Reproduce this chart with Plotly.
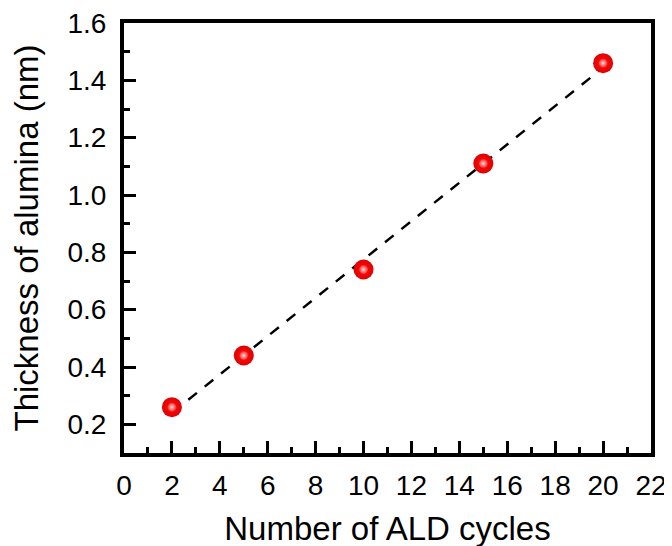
import numpy as np
import plotly.graph_objects as go

cycles = [2, 5, 10, 15, 20]
thickness = [0.26, 0.44, 0.74, 1.11, 1.46]
x_ticks = list(range(0, 23, 2))
y_ticks = [0.2, 0.4, 0.6, 0.8, 1.0, 1.2, 1.4, 1.6]

slope, intercept = np.polyfit(cycles, thickness, 1)
fit_x = [min(cycles), max(cycles)]
fit_y = [slope * v + intercept for v in fit_x]

fig = go.Figure()
fig.add_trace(go.Scatter(x=fit_x, y=fit_y, mode="lines",
                         line=dict(color="black", width=2.5, dash="11px,10px"),
                         showlegend=False, hoverinfo="skip"))
fig.add_trace(go.Scatter(x=cycles, y=thickness, mode="markers",
                         marker=dict(size=20, color="#e00000",
                                     gradient=dict(type="radial", color="#ff1010"),
                                     line=dict(width=0)),
                         showlegend=False))
fig.add_trace(go.Scatter(x=cycles, y=thickness, mode="markers",
                         marker=dict(size=9, color="#ff2020",
                                     gradient=dict(type="radial", color="#ffe0e0"),
                                     line=dict(width=0)),
                         showlegend=False, hoverinfo="skip"))

font = "Liberation Sans, Arial, sans-serif"
fig.update_layout(
    width=672, height=546,
    margin=dict(l=116, r=29, t=15, b=101),
    plot_bgcolor="white", paper_bgcolor="white",
    font=dict(family=font, color="black", size=28),
    xaxis=dict(range=[0, 22], tickvals=x_ticks, ticks="inside", ticklen=12,
               tickwidth=3, tickcolor="black", showline=True, linewidth=4,
               linecolor="black", mirror=True, showgrid=False, zeroline=False,
               automargin=False, tickfont=dict(size=28), ticklabelstandoff=4,
               ticklabeloverflow="allow",
               minor=dict(dtick=1, ticks="inside", ticklen=6, tickwidth=3,
                          tickcolor="black", showgrid=False),
               title=dict(text="Number of ALD cycles", font=dict(size=33), standoff=18)),
    yaxis=dict(range=[0.1, 1.6], tickvals=y_ticks, ticktext=[f"{v:.1f}" for v in y_ticks],
               ticks="inside", ticklen=12,
               tickwidth=3, tickcolor="black", showline=True, linewidth=4,
               linecolor="black", mirror=True, showgrid=False, zeroline=False,
               automargin=False, tickfont=dict(size=28), ticklabelstandoff=8,
               ticklabeloverflow="allow",
               minor=dict(dtick=0.1, tick0=0.1, ticks="inside", ticklen=6, tickwidth=3,
                          tickcolor="black", showgrid=False),
               title=dict(text="Thickness of alumina (nm)", font=dict(size=33), standoff=22)),
)
fig.write_html("out.html")
